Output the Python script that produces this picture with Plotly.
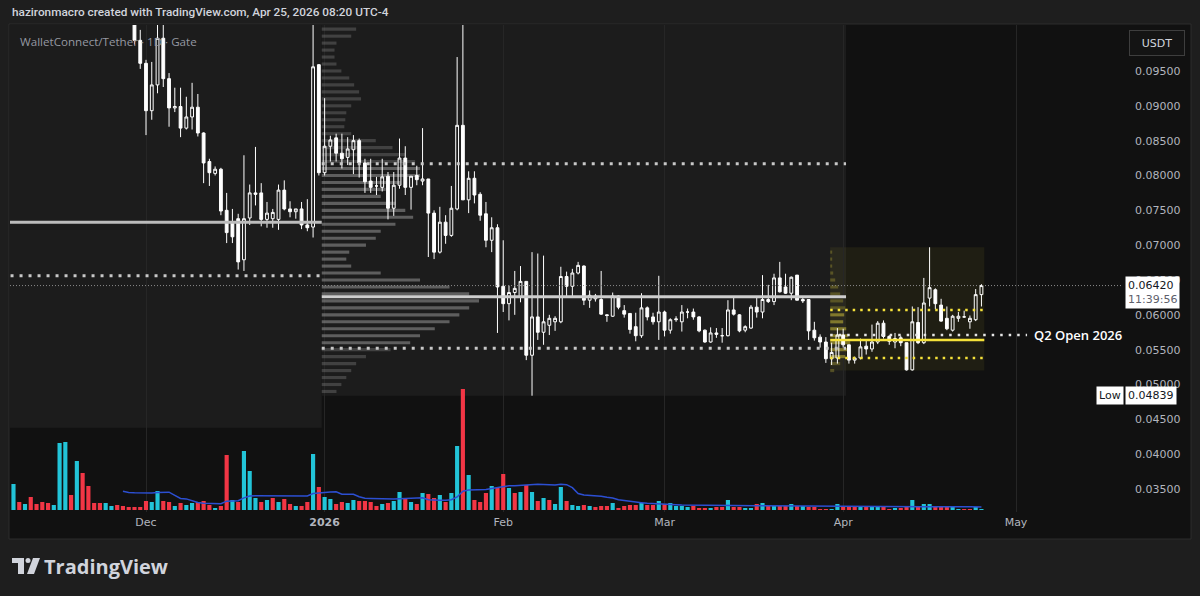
import pandas as pd
import plotly.graph_objects as go

W, H = 1200, 596

# Daily candles WCT/USDT (Gate)
candle_start = "2025-11-29"
opens = [
    0.1030, 0.0994,
    # Dec
    0.0961, 0.0893, 0.0930, 0.0997, 0.0939, 0.0897, 0.0899, 0.0868, 0.0884, 0.0898,
    0.0861, 0.0820, 0.0803, 0.0809, 0.0750, 0.0732, 0.0738, 0.0679, 0.0739, 0.0775,
    0.0775, 0.0737, 0.0738, 0.0737, 0.0779, 0.0752, 0.0748, 0.0752, 0.0729, 0.0726, 0.0959,
    # Jan
    0.0804, 0.0842, 0.0854, 0.0832, 0.0826, 0.0837, 0.0850, 0.0818, 0.0792, 0.0785,
    0.0783, 0.0799, 0.0753, 0.0786, 0.0825, 0.0783, 0.0800, 0.0792, 0.0795, 0.0746,
    0.0690, 0.0733, 0.0714, 0.0752, 0.0872, 0.0765, 0.0796, 0.0773, 0.0745, 0.0707, 0.0725,
    # Feb
    0.0641, 0.0616, 0.0632, 0.0626, 0.0648, 0.0542, 0.0597, 0.0575, 0.0585, 0.0590,
    0.0590, 0.0655, 0.0641, 0.0660, 0.0670, 0.0621, 0.0623, 0.0622, 0.0600, 0.0598,
    0.0627, 0.0606, 0.0602, 0.0583, 0.0570, 0.0610, 0.0597, 0.0590,
    # Mar
    0.0604, 0.0578, 0.0593, 0.0590, 0.0604, 0.0604, 0.0597, 0.0578, 0.0561, 0.0574,
    0.0570, 0.0570, 0.0607, 0.0600, 0.0578, 0.0581, 0.0611, 0.0604, 0.0622, 0.0619,
    0.0653, 0.0640, 0.0631, 0.0657, 0.0622, 0.0622, 0.0578, 0.0568, 0.0561, 0.0537, 0.0538,
    # Apr
    0.0571, 0.0557, 0.0535, 0.0538, 0.0555, 0.0551, 0.0561, 0.0588, 0.0569, 0.0561,
    0.0567, 0.0560, 0.0521, 0.0589, 0.0560, 0.0624, 0.0636, 0.0614, 0.0595, 0.0578,
    0.0595, 0.0597, 0.0590, 0.0593, 0.0629,
]
highs = [
    0.1060, 0.1009,
    0.0966, 0.0963, 0.1025, 0.1020, 0.0947, 0.0926, 0.0926, 0.0913, 0.0933, 0.0917,
    0.0862, 0.0824, 0.0813, 0.0811, 0.0775, 0.0752, 0.0745, 0.0829, 0.0787, 0.0841,
    0.0789, 0.0762, 0.0752, 0.0787, 0.0793, 0.0763, 0.0752, 0.0762, 0.0766, 0.1040, 0.0960,
    0.0911, 0.0857, 0.0860, 0.0860, 0.0855, 0.0858, 0.0853, 0.0824, 0.0824, 0.0798,
    0.0824, 0.0805, 0.0805, 0.0853, 0.0842, 0.0798, 0.0814, 0.0868, 0.0795, 0.0750,
    0.0755, 0.0743, 0.0785, 0.0970, 0.1030, 0.0806, 0.0806, 0.0776, 0.0762, 0.0740, 0.0730,
    0.0707, 0.0642, 0.0663, 0.0670, 0.0648, 0.0690, 0.0688, 0.0685, 0.0600, 0.0598,
    0.0669, 0.0662, 0.0666, 0.0676, 0.0671, 0.0635, 0.0630, 0.0663, 0.0601, 0.0632,
    0.0628, 0.0614, 0.0602, 0.0603, 0.0631, 0.0612, 0.0603, 0.0656,
    0.0606, 0.0595, 0.0598, 0.0614, 0.0609, 0.0609, 0.0598, 0.0579, 0.0582, 0.0581,
    0.0581, 0.0621, 0.0626, 0.0601, 0.0585, 0.0614, 0.0626, 0.0657, 0.0643, 0.0659,
    0.0676, 0.0659, 0.0655, 0.0657, 0.0625, 0.0622, 0.0590, 0.0572, 0.0568, 0.0560, 0.0581,
    0.0580, 0.0557, 0.0540, 0.0566, 0.0564, 0.0586, 0.0591, 0.0592, 0.0571, 0.0574,
    0.0570, 0.0560, 0.0612, 0.0611, 0.0653, 0.0697, 0.0638, 0.0623, 0.0612, 0.0600,
    0.0604, 0.0606, 0.0599, 0.0637, 0.0644,
]
lows = [
    0.0988, 0.0953,
    0.0858, 0.0880, 0.0918, 0.0927, 0.0870, 0.0891, 0.0855, 0.0866, 0.0866, 0.0856,
    0.0789, 0.0785, 0.0800, 0.0743, 0.0703, 0.0703, 0.0665, 0.0663, 0.0729, 0.0757,
    0.0727, 0.0725, 0.0725, 0.0722, 0.0750, 0.0740, 0.0738, 0.0723, 0.0720, 0.0711, 0.0800,
    0.0800, 0.0820, 0.0820, 0.0810, 0.0815, 0.0802, 0.0797, 0.0775, 0.0775, 0.0772,
    0.0777, 0.0737, 0.0742, 0.0781, 0.0772, 0.0751, 0.0786, 0.0786, 0.0683, 0.0680,
    0.0688, 0.0702, 0.0712, 0.0750, 0.0765, 0.0746, 0.0760, 0.0735, 0.0697, 0.0690, 0.0574,
    0.0604, 0.0592, 0.0600, 0.0618, 0.0535, 0.04839, 0.0564, 0.0557, 0.0571, 0.0577,
    0.0588, 0.0626, 0.0626, 0.0658, 0.0614, 0.0610, 0.0619, 0.0600, 0.0590, 0.0597,
    0.0608, 0.0596, 0.0573, 0.0562, 0.0567, 0.0592, 0.0586, 0.0564,
    0.0569, 0.0573, 0.0590, 0.0576, 0.0595, 0.0593, 0.0575, 0.0560, 0.0560, 0.0567,
    0.0560, 0.0569, 0.0599, 0.0575, 0.0575, 0.0580, 0.0596, 0.0595, 0.0617, 0.0614,
    0.0632, 0.0630, 0.0621, 0.0623, 0.0617, 0.0564, 0.0563, 0.0553, 0.0531, 0.0528, 0.0530,
    0.0553, 0.0530, 0.0530, 0.0536, 0.0543, 0.0547, 0.0558, 0.0566, 0.0557, 0.0552,
    0.0555, 0.0520, 0.0520, 0.0558, 0.0558, 0.0612, 0.0608, 0.0590, 0.0578, 0.0576,
    0.0590, 0.0596, 0.0580, 0.0591, 0.0612,
]
closes = [
    0.0994, 0.0961,
    0.0893, 0.0930, 0.0997, 0.0939, 0.0897, 0.0899, 0.0868, 0.0884, 0.0898, 0.0861,
    0.0818, 0.0804, 0.0809, 0.0749, 0.0718, 0.0712, 0.0676, 0.0738, 0.0775, 0.0773,
    0.0737, 0.0746, 0.0747, 0.0779, 0.0752, 0.0748, 0.0752, 0.0729, 0.0725, 0.0956, 0.0804,
    0.0842, 0.0851, 0.0832, 0.0824, 0.0838, 0.0850, 0.0818, 0.0791, 0.0783, 0.0785,
    0.0798, 0.0753, 0.0786, 0.0825, 0.0783, 0.0799, 0.0794, 0.0795, 0.0746, 0.0690,
    0.0733, 0.0714, 0.0753, 0.0872, 0.0765, 0.0796, 0.0772, 0.0743, 0.0707, 0.0725, 0.0640,
    0.0616, 0.0632, 0.0638, 0.0648, 0.0542, 0.0597, 0.0575, 0.0590, 0.0595, 0.0595,
    0.0655, 0.0641, 0.0660, 0.0671, 0.0621, 0.0628, 0.0627, 0.0601, 0.0599, 0.0627,
    0.0611, 0.0601, 0.0579, 0.0570, 0.0610, 0.0597, 0.0590, 0.0604,
    0.0578, 0.0593, 0.0594, 0.0604, 0.0604, 0.0597, 0.0577, 0.0561, 0.0574, 0.0572,
    0.0570, 0.0607, 0.0601, 0.0577, 0.0583, 0.0611, 0.0604, 0.0622, 0.0619, 0.0653,
    0.0633, 0.0631, 0.0654, 0.0621, 0.0620, 0.0577, 0.0567, 0.0561, 0.0537, 0.0546, 0.0571,
    0.0557, 0.0535, 0.0538, 0.0554, 0.0551, 0.0561, 0.0588, 0.0569, 0.0562, 0.0566,
    0.0560, 0.0521, 0.0590, 0.0560, 0.0617, 0.0639, 0.0616, 0.0591, 0.0580, 0.0598,
    0.0598, 0.0597, 0.0595, 0.0629, 0.0642,
]

# Volume pane (relative bar heights), starts earlier than the visible candles
volume_start = "2025-11-08"
vol_nov = [26, 8, 6, 13, 6, 8, 7, 5, 67, 68, 15, 49, 37, 24, 7, 7, 7, 4, 5, 4, 3, 3, 3]
vol_dec = [9, 8, 19, 9, 8, 4, 7, 5, 7, 8, 9, 5, 2, 4, 55, 10, 8, 59, 39, 12, 8, 10,
           12, 8, 11, 6, 4, 4, 8, 56, 23]
vol_jan = [13, 11, 6, 8, 7, 10, 9, 9, 8, 4, 6, 7, 9, 18, 11, 8, 6, 17, 16, 12, 15, 8,
           17, 64, 121, 35, 10, 8, 17, 24, 22]
vol_feb = [36, 22, 17, 18, 25, 18, 9, 12, 10, 6, 23, 9, 5, 4, 5, 4, 3, 4, 4, 7, 2, 4,
           5, 5, 7, 5, 5, 9]
vol_mar = [6, 7, 4, 4, 3, 4, 2, 2, 2, 3, 3, 10, 3, 3, 2, 2, 6, 7, 4, 4, 4, 4, 6, 4, 4,
           3, 3, 1, 1, 1, 6]
vol_apr = [3, 3, 3, 3, 3, 4, 3, 3, 1, 2, 2, 3, 10, 3, 6, 6, 3, 3, 3, 3, 1, 1, 1, 3, 1]
# u = up (teal) bar, d = down (red) bar
vol_dir = ("ududdddu" "uududddd" "uuddddd"
           "duuddudu" "uddduddu" "duuududu" "dduddud"
           "uudduudd" "dduduudu" "dudduduu" "dudddud"
           "dudududu" "duuduudu" "dddudddd" "uddu"
           "duuuuddd" "uddudduu" "dududdud" "udddduu"
           "ddduduud" "dudduduu" "ddduuddu" "u")

# Quarterly volume profiles (row price, relative volume)
q1_rows = [0.049, 0.050, 0.051, 0.052, 0.053, 0.054, 0.055, 0.056, 0.057, 0.058,
           0.059, 0.060, 0.061, 0.062, 0.063, 0.064, 0.065, 0.066, 0.067, 0.068,
           0.069, 0.070, 0.071, 0.072, 0.073, 0.074, 0.075, 0.076, 0.077, 0.078,
           0.079, 0.080, 0.081, 0.082, 0.083, 0.084, 0.085, 0.086, 0.087, 0.088,
           0.089, 0.090, 0.091, 0.092, 0.093, 0.094, 0.095, 0.096, 0.097, 0.098,
           0.099, 0.100, 0.101]
q1_vol = [15, 20, 25, 30, 35, 45, 70, 90, 100, 115,
          130, 140, 150, 160, 150, 130, 100, 60, 30, 25,
          28, 45, 55, 60, 75, 93, 85, 75, 60, 65,
          80, 100, 100, 95, 85, 72, 55, 30, 23, 24,
          25, 30, 40, 38, 33, 28, 20, 15, 13, 13,
          15, 30, 35]
q2_rows = [0.052, 0.053, 0.054, 0.055, 0.056, 0.057, 0.058, 0.059, 0.060,
           0.061, 0.062, 0.063, 0.064, 0.065, 0.066, 0.067, 0.068, 0.069]
q2_vol = [4, 10, 15, 18, 20, 18, 16, 13, 14, 15, 13, 10, 8, 5, 3, 2, 2, 2]

Q4_LOW = 0.0438
Q4_POC, Q4_VAL = 0.0733, 0.0656
Q1_POC, Q1_VAH, Q1_VAL = 0.0626, 0.0817, 0.0552
Q2_POC, Q2_VAH, Q2_VAL = 0.0564, 0.0607, 0.0538

month_ticks = ["2025-12-01", "2026-01-01", "2026-02-01", "2026-03-01", "2026-04-01", "2026-05-01"]
month_text = ["Dec", "<b>2026</b>", "Feb", "Mar", "Apr", "May"]
price_ticks = [0.035, 0.040, 0.045, 0.050, 0.055, 0.060, 0.065, 0.070, 0.075, 0.080, 0.085, 0.090, 0.095]

X_RANGE = ["2025-11-07 09:30", "2026-05-19 09:30"]
Y_RANGE = [0.0317, 0.1016]
DAY_MS = 86400000


def px_x(px):
    return px / W


def px_y(py):
    return 1 - py / H


df = pd.DataFrame({"open": opens, "high": highs, "low": lows, "close": closes},
                  index=pd.date_range(candle_start, periods=len(closes), freq="D"))
vol = pd.Series(vol_nov + vol_dec + vol_jan + vol_feb + vol_mar + vol_apr,
                index=pd.date_range(volume_start, periods=len(vol_dir), freq="D"))
vol_ma = vol.rolling(20).mean()
vol_colors = ["#22c4d8" if d == "u" else "#f23645" for d in vol_dir]

q1 = df.loc["2026-01-01":"2026-03-31"]
q2 = df.loc["2026-04-01":]
q2_open = q2["open"].iloc[0]
last_close = df["close"].iloc[-1]
low_min = df["low"].min()

Q4_END = "2025-12-31 12:00"
Q1_START, Q1_END = "2025-12-31 12:00", "2026-04-01 12:00"
Q2_START, Q2_END = "2026-03-29 18:00", "2026-04-25 12:00"


def profile_trace(rows, vols, start, end, frac, va, col):
    box_ms = (pd.Timestamp(end) - pd.Timestamp(start)).total_seconds() * 1000
    vmax = max(vols)
    return go.Bar(
        orientation="h", y=rows, x=[v / vmax * frac * box_ms for v in vols],
        base=[start] * len(rows), width=0.00045,
        marker=dict(color=[f"rgba({col},0.50)" if va[1] <= p <= va[0] else f"rgba({col},0.28)"
                           for p in rows], line_width=0),
        hoverinfo="skip", showlegend=False,
    )


fig = go.Figure()

fig.add_trace(go.Bar(
    x=vol.index, y=vol.values, yaxis="y2", width=0.72 * DAY_MS,
    marker=dict(color=vol_colors, line_width=0), showlegend=False, hoverinfo="skip",
))
fig.add_trace(go.Scatter(
    x=vol_ma.index, y=vol_ma.values, yaxis="y2", mode="lines",
    line=dict(color="#2c4fd2", width=1.5), showlegend=False, hoverinfo="skip",
))
fig.add_trace(profile_trace(q1_rows, q1_vol, Q1_START, Q1_END, 0.30, (Q1_VAH, Q1_VAL), "160,160,160"))
fig.add_trace(profile_trace(q2_rows, q2_vol, Q2_START, Q2_END, 0.13, (Q2_VAH, Q2_VAL), "215,200,60"))
fig.add_trace(go.Candlestick(
    x=df.index, open=df["open"], high=df["high"], low=df["low"], close=df["close"],
    increasing=dict(line=dict(color="#ffffff", width=1), fillcolor="rgba(0,0,0,0)"),
    decreasing=dict(line=dict(color="#ffffff", width=1), fillcolor="#ffffff"),
    whiskerwidth=0, showlegend=False, hoverinfo="skip",
))

shapes = [
    # chart panel
    dict(type="rect", xref="paper", yref="paper", x0=px_x(9), x1=px_x(1191), y0=px_y(539), y1=px_y(24),
         fillcolor="#111111", line=dict(color="#2c2c2c", width=1), layer="below"),
    # quarter boxes
    dict(type="rect", x0="2025-10-01", x1=Q4_END, y0=Q4_LOW, y1=0.12,
         fillcolor="#1c1c1c", line_width=0, layer="below"),
    dict(type="rect", x0=Q1_START, x1=Q1_END, y0=q1["low"].min(), y1=q1["high"].max(),
         fillcolor="#1c1c1c", line_width=0, layer="below"),
    dict(type="rect", x0=Q2_START, x1=Q2_END, y0=q2["low"].min(), y1=q2["high"].max(),
         fillcolor="rgba(255,235,59,0.06)", line_width=0, layer="below"),
]


def hline(y, x0, x1, color, width, dash="solid"):
    return dict(type="line", x0=x0, x1=x1, y0=y, y1=y, layer="above",
                line=dict(color=color, width=width, dash=dash))


shapes += [
    hline(Q4_POC, "2025-10-01", Q4_END, "#bcbcbc", 3),
    hline(Q4_VAL, "2025-10-01", Q4_END, "#c8c8c8", 3, "3px,6px"),
    hline(Q1_POC, Q1_START, Q1_END, "#cdcdcd", 3),
    hline(Q1_VAH, Q1_START, Q1_END, "#c8c8c8", 3, "3px,6px"),
    hline(Q1_VAL, Q1_START, Q1_END, "#c8c8c8", 3, "3px,6px"),
    hline(Q2_POC, Q2_START, Q2_END, "#f5e23a", 2.5),
    hline(Q2_VAH, Q2_START, Q2_END, "#f5e23a", 2.5, "2.5px,5px"),
    hline(Q2_VAL, Q2_START, Q2_END, "#f5e23a", 2.5, "2.5px,5px"),
    hline(q2_open, Q2_START, "2026-05-02 22:00", "#e6e6e6", 2.5, "2.5px,6px"),
    hline(last_close, X_RANGE[0], X_RANGE[1], "#8a8a8a", 1, "1px,2px"),
]

# TradingView logo mark
logo = "#d1d4dc"
shapes += [
    dict(type="path", xref="paper", yref="paper", fillcolor=logo, line_width=0,
         path=f"M{px_x(12)},{px_y(558)} L{px_x(24)},{px_y(558)} L{px_x(24)},{px_y(574)} "
              f"L{px_x(18)},{px_y(574)} L{px_x(18)},{px_y(563)} L{px_x(12)},{px_y(563)} Z"),
    dict(type="circle", xref="paper", yref="paper", fillcolor=logo, line_width=0,
         x0=px_x(25.5), x1=px_x(30.5), y0=px_y(563), y1=px_y(558)),
    dict(type="path", xref="paper", yref="paper", fillcolor=logo, line_width=0,
         path=f"M{px_x(33)},{px_y(558)} L{px_x(40)},{px_y(558)} L{px_x(34)},{px_y(574)} "
              f"L{px_x(27)},{px_y(574)} Z"),
]

label_font = dict(family="DejaVu Sans", size=11, color="#131722")
annotations = [
    dict(xref="paper", yref="paper", x=px_x(10), y=px_y(12), xanchor="left", yanchor="middle",
         text="hazironmacro created with TradingView.com, Apr 25, 2026 08:20 UTC-4", showarrow=False,
         font=dict(family="Roboto", size=11.8, color="#d1d4dc", weight=500)),
    dict(xref="paper", yref="paper", x=px_x(18), y=px_y(41), xanchor="left", yanchor="middle",
         text="WalletConnect/Tether · 1D · Gate", showarrow=False,
         font=dict(family="Open Sans", size=11.6, color="#9598a1")),
    dict(xref="paper", yref="paper", x=px_x(1157), y=px_y(43), xanchor="center", yanchor="middle",
         text="USDT", showarrow=False, width=48, height=18, bgcolor="#141414",
         bordercolor="#3e3e3e", borderwidth=1, borderpad=3,
         font=dict(family="DejaVu Sans", size=11, color="#d1d4dc")),
    dict(xref="paper", yref="y", x=px_x(1125), y=last_close, xanchor="left", yanchor="top", yshift=10,
         text=f"{last_close:.5f}<br><span style='color:#5d606b'>11:39:56</span>", showarrow=False,
         align="left", bgcolor="#ffffff", borderpad=2, font=label_font),
    dict(xref="paper", yref="y", x=px_x(1124), y=low_min, xanchor="right", yanchor="middle",
         text="Low", showarrow=False, bgcolor="#ffffff", borderpad=2, font=label_font),
    dict(xref="paper", yref="y", x=px_x(1125), y=low_min, xanchor="left", yanchor="middle",
         text=f"{low_min:.5f}", showarrow=False, bgcolor="#ffffff", borderpad=2, font=label_font),
    dict(x="2026-05-03 18:00", y=q2_open, xanchor="left", yanchor="middle",
         text="Q2 Open 2026", showarrow=False,
         font=dict(family="Open Sans", size=13, color="#ffffff", weight=600)),
    dict(xref="paper", yref="paper", x=px_x(42), y=px_y(566), xanchor="left", yanchor="middle",
         text="TradingView", showarrow=False,
         font=dict(family="Open Sans", size=20, color="#d1d4dc", weight=700)),
]

fig.update_layout(
    width=W, height=H, autosize=False,
    margin=dict(l=0, r=0, t=0, b=0),
    paper_bgcolor="#1e1e1e", plot_bgcolor="rgba(0,0,0,0)",
    barmode="overlay", showlegend=False,
    shapes=shapes, annotations=annotations,
    xaxis=dict(
        type="date", domain=[px_x(10), px_x(1122)], range=X_RANGE,
        rangeslider=dict(visible=False),
        tickvals=month_ticks, ticktext=month_text, ticks="", ticklabelstandoff=2,
        tickfont=dict(family="DejaVu Sans", size=11, color="#b2b5be"),
        showgrid=True, gridcolor="#262626", gridwidth=1,
        showline=False, zeroline=False, fixedrange=True,
    ),
    yaxis=dict(
        domain=[px_y(512), px_y(25)], range=Y_RANGE, side="right",
        tickvals=price_ticks, tickformat=".5f", ticks="", ticklabelstandoff=12,
        tickfont=dict(family="DejaVu Sans", size=11, color="#b2b5be"),
        showgrid=False, showline=False, zeroline=False, fixedrange=True,
    ),
    yaxis2=dict(overlaying="y", range=[-2, 485], visible=False, fixedrange=True),
)

fig.write_html("out.html", config={"displayModeBar": False},
               post_script="document.body.style.margin='0px';")
